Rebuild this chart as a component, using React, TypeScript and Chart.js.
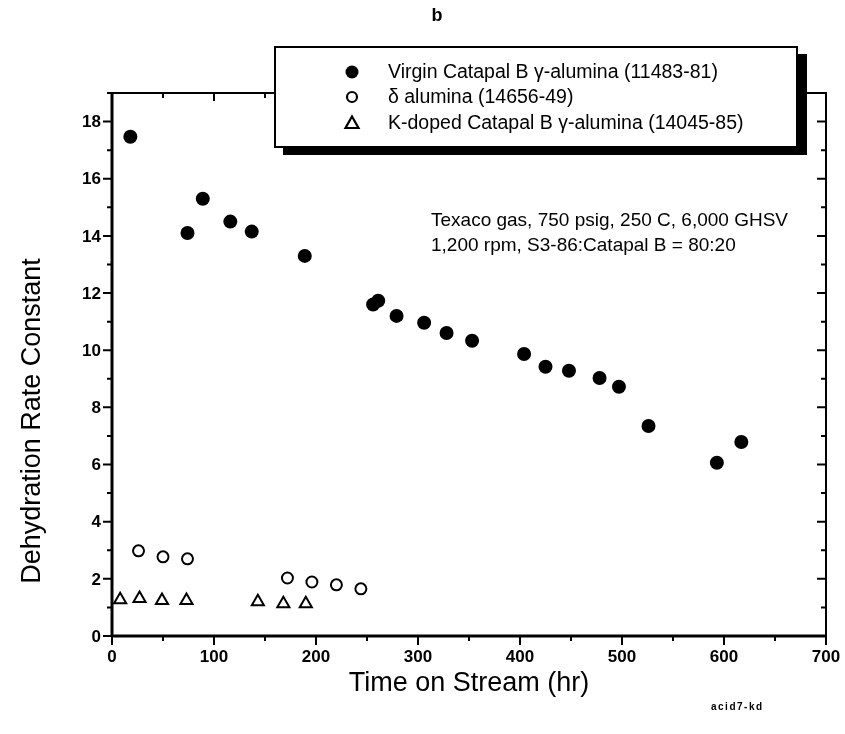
import React, { useEffect, useRef } from "react";
import { Chart, registerables } from "chart.js";

Chart.register(...registerables);

// ---- data ----
const virginX = [18, 74, 89, 116, 137, 189, 256, 261, 279, 306, 328, 353, 404, 425, 448, 478, 497, 526, 593, 617];
const virginY = [17.47, 14.1, 15.3, 14.5, 14.15, 13.3, 11.6, 11.73, 11.2, 10.96, 10.6, 10.33, 9.87, 9.42, 9.28, 9.03, 8.72, 7.35, 6.06, 6.79];
const deltaX = [26, 50, 74, 172, 196, 220, 244];
const deltaY = [2.98, 2.77, 2.7, 2.03, 1.89, 1.79, 1.65];
const kX = [8, 27, 49, 73, 143, 168, 190];
const kY = [1.27, 1.31, 1.24, 1.24, 1.2, 1.13, 1.13];

const seriesNames = [
  "Virgin Catapal B \u03b3-alumina (11483-81)",
  "\u03b4 alumina (14656-49)",
  "K-doped Catapal B \u03b3-alumina (14045-85)",
];

const xMajorTicks = [0, 100, 200, 300, 400, 500, 600, 700];
const xMinorTicks = [50, 150, 250, 350, 450, 550, 650];
const yMajorTicks = [0, 2, 4, 6, 8, 10, 12, 14, 16, 18];
const yMinorTicks = [1, 3, 5, 7, 9, 11, 13, 15, 17, 19];

const xTitle = "Time on Stream (hr)";
const yTitle = "Dehydration Rate Constant";
const panelLabel = "b";
const noteLines = ["Texaco gas, 750 psig, 250 C, 6,000 GHSV", "1,200 rpm, S3-86:Catapal B = 80:20"];
const footLabel = "acid7-kd";

const FONT = "'Liberation Sans', Arial, Helvetica, sans-serif";

function toPoints(xs: number[], ys: number[]) {
  return xs.map((x, i) => ({ x, y: ys[i] }));
}

const framePlugin = {
  id: "framePlugin",
  afterDraw(chart: any) {
    const ctx = chart.ctx as CanvasRenderingContext2D;
    const xs = chart.scales.x;
    const ys = chart.scales.y;
    const { left, right, top, bottom } = chart.chartArea;
    ctx.save();
    ctx.strokeStyle = "#000";
    ctx.fillStyle = "#000";

    // frame
    ctx.lineWidth = 2;
    ctx.strokeRect(left, top, right - left, bottom - top);
    ctx.lineWidth = 3;
    ctx.beginPath();
    ctx.moveTo(left, top);
    ctx.lineTo(left, bottom + 1);
    ctx.moveTo(left - 1, bottom);
    ctx.lineTo(right, bottom);
    ctx.stroke();

    // ticks
    ctx.lineWidth = 2;
    ctx.beginPath();
    for (const v of xMajorTicks) {
      const p = xs.getPixelForValue(v);
      ctx.moveTo(p, bottom);
      ctx.lineTo(p, bottom + 9);
      ctx.moveTo(p, top);
      ctx.lineTo(p, top + 8);
    }
    for (const v of xMinorTicks) {
      const p = xs.getPixelForValue(v);
      ctx.moveTo(p, bottom);
      ctx.lineTo(p, bottom + 5);
      ctx.moveTo(p, top);
      ctx.lineTo(p, top + 5);
    }
    for (const v of yMajorTicks) {
      const p = ys.getPixelForValue(v);
      ctx.moveTo(left, p);
      ctx.lineTo(left - 9, p);
      ctx.moveTo(right, p);
      ctx.lineTo(right - 9, p);
    }
    for (const v of yMinorTicks) {
      const p = ys.getPixelForValue(v);
      ctx.moveTo(left, p);
      ctx.lineTo(left - 5, p);
      ctx.moveTo(right, p);
      ctx.lineTo(right - 5, p);
    }
    ctx.stroke();

    // tick labels
    ctx.font = `bold 17px ${FONT}`;
    ctx.textAlign = "center";
    ctx.textBaseline = "top";
    for (const v of xMajorTicks) {
      ctx.fillText(String(v), xs.getPixelForValue(v), bottom + 13);
    }
    ctx.textAlign = "right";
    ctx.textBaseline = "middle";
    for (const v of yMajorTicks) {
      ctx.fillText(String(v), left - 11, ys.getPixelForValue(v) + 1);
    }

    // axis titles
    ctx.font = `27px ${FONT}`;
    ctx.textAlign = "center";
    ctx.textBaseline = "middle";
    ctx.fillText(xTitle, 469, 684);
    ctx.save();
    ctx.translate(33, 421);
    ctx.rotate(-Math.PI / 2);
    ctx.font = `27px ${FONT}`;
    ctx.fillText(yTitle, 0, 0);
    ctx.restore();

    // panel label
    ctx.font = `bold 18px ${FONT}`;
    ctx.fillText(panelLabel, 437, 16);

    // footer
    ctx.font = `bold 10px ${FONT}`;
    ctx.textAlign = "left";
    (ctx as any).letterSpacing = "1.5px";
    ctx.fillText(footLabel, 711, 707);
    (ctx as any).letterSpacing = "0px";

    // note
    ctx.font = `19px ${FONT}`;
    ctx.textAlign = "left";
    ctx.fillText(noteLines[0], 431, 221);
    ctx.fillText(noteLines[1], 431, 246);

    // legend box with shadow
    const bx = 275, by = 47, bw = 522, bh = 100;
    ctx.fillStyle = "#000";
    ctx.fillRect(bx + 8, by + 7, bw + 2, bh + 1);
    ctx.fillStyle = "#fff";
    ctx.fillRect(bx, by, bw, bh);
    ctx.lineWidth = 2;
    ctx.strokeStyle = "#000";
    ctx.strokeRect(bx, by, bw, bh);

    const rows = [72, 97, 123];
    const mx = 352;
    // filled circle
    ctx.fillStyle = "#000";
    ctx.beginPath();
    ctx.arc(mx, rows[0], 6.5, 0, Math.PI * 2);
    ctx.fill();
    // open circle
    ctx.lineWidth = 2.2;
    ctx.beginPath();
    ctx.arc(mx, rows[1], 5, 0, Math.PI * 2);
    ctx.stroke();
    // triangle
    ctx.beginPath();
    ctx.moveTo(mx, rows[2] - 6.5);
    ctx.lineTo(mx + 6.5, rows[2] + 5);
    ctx.lineTo(mx - 6.5, rows[2] + 5);
    ctx.closePath();
    ctx.stroke();

    ctx.font = `19.5px ${FONT}`;
    ctx.textAlign = "left";
    ctx.textBaseline = "middle";
    ctx.fillStyle = "#000";
    seriesNames.forEach((s, i) => ctx.fillText(s, 388, rows[i] + 1));

    ctx.restore();
  },
};

export default function App() {
  const ref = useRef<HTMLCanvasElement | null>(null);
  useEffect(() => {
    if (!ref.current) return;
    const chart = new Chart(ref.current, {
      type: "scatter",
      data: {
        datasets: [
          {
            label: seriesNames[0],
            data: toPoints(virginX, virginY),
            pointStyle: "circle",
            pointRadius: 7,
            backgroundColor: "#000",
            borderColor: "#000",
            borderWidth: 0,
          },
          {
            label: seriesNames[1],
            data: toPoints(deltaX, deltaY),
            pointStyle: "circle",
            pointRadius: 5.5,
            backgroundColor: "#fff",
            borderColor: "#000",
            borderWidth: 2,
          },
          {
            label: seriesNames[2],
            data: toPoints(kX, kY),
            pointStyle: "triangle",
            pointRadius: 7,
            backgroundColor: "#fff",
            borderColor: "#000",
            borderWidth: 2,
          },
        ],
      },
      options: {
        responsive: false,
        animation: false,
        devicePixelRatio: 1,
        layout: { padding: { left: 112, right: 19, top: 93, bottom: 98 } },
        plugins: { legend: { display: false }, tooltip: { enabled: false }, title: { display: false } },
        scales: {
          x: { type: "linear", min: 0, max: 700, display: false },
          y: { type: "linear", min: 0, max: 19, display: false },
        },
      },
      plugins: [framePlugin],
    });
    return () => chart.destroy();
  }, []);
  return (
    <div style={{ position: "absolute", left: 0, top: 0, width: 845, height: 734, background: "#fff" }}>
      <canvas ref={ref} width={845} height={734} style={{ display: "block" }} />
    </div>
  );
}
